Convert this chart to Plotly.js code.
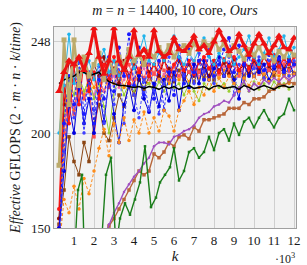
<!DOCTYPE html>
<html><head><meta charset="utf-8">
<script src="https://cdn.plot.ly/plotly-3.0.1.min.js"></script>
<style>html,body{margin:0;padding:0;background:#fff}</style>
</head><body><div id="chart" style="width:307px;height:265px"></div>
<script>
// k values (in thousands)
const K = [0.25,0.5,0.75,1.0,1.25,1.5,1.75,2.0,2.25,2.5,2.75,3.0,3.25,3.5,3.75,4.0,4.25,4.5,4.75,5.0,5.25,5.5,5.75,6.0,6.25,6.5,6.75,7.0,7.25,7.5,7.75,8.0,8.25,8.5,8.75,9.0,9.25,9.5,9.75,10.0,10.25,10.5,10.75,11.0,11.25,11.5,11.75,12.0];
const K_LATE = [2.5,2.75,3.0,3.25,3.5,3.75,4.0,4.25,4.5,4.75,5.0,5.25,5.5,5.75,6.0,6.25,6.5,6.75,7.0,7.25,7.5,7.75,8.0,8.25,8.5,8.75,9.0,9.25,9.5,9.75,10.0,10.25,10.5,10.75,11.0,11.25,11.5,11.75,12.0];
const K_GREEN = [1.0,1.2,1.4,1.55,2.3,2.6,2.85,3.1,3.3,3.55,3.8,4.05,4.3,4.55,4.85,5.1,5.3,5.55,5.8,6.0,6.25,6.5,6.75,7.0,7.25,7.5,7.75,8.0,8.25,8.5,8.75,9.0,9.25,9.5,9.75,10.0,10.25,10.5,10.75,11.0,11.25,11.5,11.75,12.0];

// GFLOPS series
const orangeSolid = [155,190,220,212,226,220,230,224,228,222,230,226,232,224,230,226,232,228,226,232,228,230,226,232,228,231,227,233,229,231,228,232,229,233,230,228,232,229,233,230,234,231,228,232,230,233,230,232];
const pink = [150,205,222,214,224,218,226,220,228,222,226,230,224,228,232,226,230,234,228,232,227,231,234,229,233,228,232,235,230,233,229,234,231,235,230,233,236,231,234,230,235,232,236,231,234,237,232,235];
const yellowGreen = [145,210,228,220,230,222,228,218,226,214,200,222,228,220,226,222,228,224,226,221,227,222,228,224,226,220,226,222,217,226,223,228,224,226,222,227,224,226,222,227,223,226,222,227,224,226,223,226];
const saddleBrown = [152,170,198,185,178,195,185,205,215,200,196,208,220,214,226,220,228,223,230,225,231,226,232,227,233,228,232,227,233,229,234,228,233,230,235,229,233,230,235,230,234,229,233,230,235,231,234,231];
const redThinB = [150,200,222,210,228,218,225,198,220,230,224,234,226,232,236,228,234,229,236,231,237,233,228,235,230,236,232,238,232,236,230,235,231,237,233,236,230,235,232,236,231,236,233,237,232,236,233,237];
const maroon = [155,215,238,228,232,238,226,236,230,240,228,234,226,238,230,236,228,240,232,236,230,238,234,230,238,232,236,230,238,234,230,238,233,237,231,239,233,236,231,238,233,240,235,232,238,234,239,236];
const blueSolid = [150,180,215,200,225,205,218,200,222,206,228,210,195,215,225,212,230,218,211,226,214,228,217,232,212,230,224,236,226,238,228,234,240,230,236,228,218,236,230,240,232,236,228,234,240,233,237,231];
const blueDashC = [130,190,222,208,230,200,226,212,235,205,230,215,236,205,230,220,208,228,212,222,210,226,240,228,246,230,238,226,242,232,244,226,238,230,240,220,236,228,242,234,240,229,238,232,236,240,230,238];
const redThinA = [160,225,205,235,215,238,222,232,218,236,228,240,230,236,226,238,232,240,230,236,232,239,230,236,240,233,238,231,237,240,234,238,232,239,235,240,233,238,234,239,235,240,236,241,235,239,236,240];
const blueDashA = [140,205,230,215,238,210,232,205,228,218,240,222,245,230,252,225,245,220,242,218,238,212,232,220,240,226,244,232,238,228,242,230,236,244,250,232,246,236,240,230,238,233,241,235,239,232,238,236];
const cyan = [200,225,252,226,240,232,238,228,236,244,232,238,230,236,240,234,242,251,238,236,242,238,244,251,240,236,242,238,244,250,240,236,242,238,244,236,240,244,251,240,236,242,250,240,244,251,240,245];
const orangeDash = [138,165,158,172,160,176,168,180,192,202,188,205,195,208,196,207,200,211,200,208,201,212,209,201,212,217,222,215,224,220,228,222,229,224,230,226,222,229,225,230,226,231,227,232,228,230,226,231];
const siennaRise = [146,151,155,160,165,170,175,180,178,180,189,187,190,195,193,198,199,197,203,201,207,207,208,209,210,213,213,213,216,215,218,218,219,222,223,226,225,227,226];
const purpleRise = [145,152,158,163,169,173,177,180,184,187,193,195,195,194,198,199,201,202,204,208,210,211,214,215,217,216,220,224,227,222,226,224,228,226,229,227,230,228,230];
const greenRise = [130,170,178,125,130,178,187,140,155,163,157,165,174,193,161,166,174,178,182,192,175,180,190,192,187,190,198,191,200,202,196,205,199,206,208,203,208,212,207,203,208,210,218,212];
const blackRef = [226,228,229,230,232,232,230,231,232,229,227,226,225,225,224.5,224,224.5,223.5,224.5,224,223,224.5,223.5,224.5,223,224,225,223.5,224,224.5,223,224.5,225,223.5,224,224.5,223,225,224,222.5,224,225,224,223,224.5,225,224,224.5];
const khaki = [183,249,215,249,225,240,230,236,242,228,238,232,240,236,244,238,241,236,243,240,245,241,246,240,244,246,242,247,244,248,246,249,244,247,241,246,243,239,244,241,245,240,243,238,243,240,244,241];
const redThick = [222,232,238,236,240,233,242,255,240,231,238,255,238,233,240,254,241,244,240,254,243,240,242,250,244,243,246,251,244,246,242,248,254,249,243,245,252,246,241,247,252,247,242,246,251,245,244,250];

const TICK_X = [1,2,3,4,5,6,7,8,9,10,11,12];
const TICK_Y = [150,200,248];

function tr(x, y, color, width, dash, symbol, msize) {
  return {x: x, y: y, type: 'scatter', mode: msize > 0 ? 'lines+markers' : 'lines',
    line: {color: color, width: width, dash: dash || 'solid'},
    marker: {color: color, size: msize, symbol: symbol || 'circle', line: {width: 0}},
    hoverinfo: 'skip', showlegend: false, cliponaxis: true};
}

const data = [
  tr(K, orangeSolid, '#ff8a00', 1, null, 'circle', 3.5),
  tr(K, pink, '#f06aa8', 1, null, 'circle', 3),
  tr(K, yellowGreen, '#9acd32', 1, null, 'circle', 3),
  tr(K, saddleBrown, '#8b4513', 1, null, 'square', 3.5),
  tr(K, redThinB, '#ff5050', 1, null, 'square', 3.5),
  tr(K, maroon, '#8b0a0a', 1, null, 'circle', 4),
  tr(K, blueSolid, '#0000e0', 1, null, 'circle', 4),
  tr(K, blueDashC, '#4040ff', 1, '3px,2px', 'circle', 3.5),
  tr(K, redThinA, '#ff1414', 1.2, null, 'circle', 4),
  tr(K, blueDashA, '#1a1aff', 1, '3px,2px', 'circle', 4),
  tr(K, cyan, '#1eb4ec', 1, null, 'circle', 3.5),
  tr(K, orangeDash, '#ff8c1a', 1, '3px,2px', 'circle', 3.5),
  tr(K_LATE, siennaRise, '#b8663a', 1.4, null, 'square', 3.5),
  tr(K_LATE, purpleRise, '#a050c0', 1.4, null, 'circle', 2.5),
  tr(K_GREEN, greenRise, '#1a7d1a', 1.4, null, 'square', 2.5),
  tr(K, blackRef, '#000000', 1.5, null, 'circle', 0),
  tr(K, khaki, '#bcab6c', 2.5, null, 'square', 5),
  tr(K, redThick, '#ee1111', 3, null, 'triangle-up', 7)
];

const serif = 'Liberation Serif';
const layout = {
  width: 307, height: 265,
  margin: {l: 54, r: 11, t: 27, b: 37, pad: 0},
  paper_bgcolor: '#ffffff', plot_bgcolor: '#f2f2f2',
  font: {family: serif, size: 13, color: '#1a1a1a'},
  title: {text: '<i>m</i> = <i>n</i> = 14400, 10 core, <i>Ours</i>', font: {family: serif, size: 14, color: '#1a1a1a'}, x: 0.57, xanchor: 'center', y: 0.962, yanchor: 'middle'},
  xaxis: {range: [0, 12.1], tickvals: TICK_X, ticktext: TICK_X.map(String), ticks: '', showgrid: true, gridcolor: '#cfcfcf', gridwidth: 1,
    zeroline: false, showline: true, linecolor: '#a0a0a0', linewidth: 1, mirror: true,
    tickfont: {family: serif, size: 13}, title: {text: '<i>k</i>', font: {family: serif, size: 15}, standoff: 3}},
  yaxis: {range: [150, 255.8], tickvals: TICK_Y, ticktext: TICK_Y.map(String), ticks: '', showgrid: true, gridcolor: '#cfcfcf', gridwidth: 1,
    zeroline: false, showline: true, linecolor: '#a0a0a0', linewidth: 1, mirror: true,
    tickfont: {family: serif, size: 13},
    title: {text: '<i>Effective</i> GFLOPS (2 · <i>m</i> · <i>n</i> · <i>k</i>/<i>time</i>)', font: {family: serif, size: 14}, standoff: 7}},
  annotations: [{text: '·10<sup>3</sup>', xref: 'paper', yref: 'paper', x: 1.005, y: -0.15, xanchor: 'right', yanchor: 'middle', showarrow: false, font: {family: serif, size: 12}}]
};

Plotly.newPlot('chart', data, layout, {staticPlot: true, displayModeBar: false});
</script></body></html>
